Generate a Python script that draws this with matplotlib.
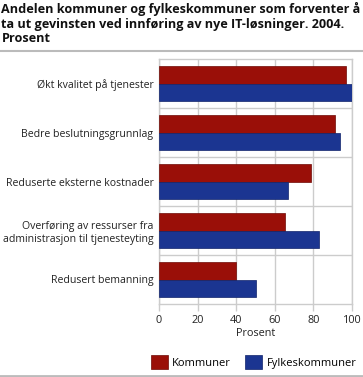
import numpy as np
import matplotlib
matplotlib.use('Agg')
import matplotlib.pyplot as plt
from matplotlib.lines import Line2D
from matplotlib.patches import Patch

plt.rcParams['font.family'] = ['Open Sans', 'DejaVu Sans']

categories = ['Økt kvalitet på tjenester',
              'Bedre beslutningsgrunnlag',
              'Reduserte eksterne kostnader',
              'Overføring av ressurser fra\nadministrasjon til tjenesteyting',
              'Redusert bemanning']
kommuner = [97, 91, 79, 65.5, 40]
fylkeskommuner = [100, 94, 67, 83, 50]
xticks = [0, 20, 40, 60, 80, 100]

red = '#9A0F08'
blue = '#1B3591'
grid = '#CCCCCC'

fig = plt.figure(figsize=(3.63, 3.77), dpi=100)
ax = fig.add_axes([159/363, 1-304/377, 193/363, 245/377])

y = np.arange(len(categories))
h = 0.35
ax.barh(y - h/2, kommuner, height=h, color=red, edgecolor='#6E0A05', linewidth=0.5, zorder=3)
ax.barh(y + h/2, fylkeskommuner, height=h, color=blue, edgecolor='#10236A', linewidth=0.5, zorder=3)

ax.set_ylim(len(categories) - 0.5, -0.5)
ax.set_xlim(0, 100)
ax.set_yticks(y)
ax.set_yticklabels(categories, fontsize=7.6, color='#222222')
ax.tick_params(axis='y', length=0, pad=4)
ax.set_xticks(xticks)
ax.set_xticklabels([str(t) for t in xticks], fontsize=7.8, color='#222222')
ax.tick_params(axis='x', length=5, color=grid, width=1, pad=3)

# vertical gridlines and category separators
for t in xticks:
    ax.axvline(t, color=grid, linewidth=1, zorder=1)
for b in np.arange(len(categories) - 1) + 0.5:
    ax.axhline(b, color=grid, linewidth=1, zorder=1)
for s in ax.spines.values():
    s.set_color(grid)
    s.set_linewidth(1)

ax.set_xlabel('Prosent', fontsize=7.8, color='#222222', labelpad=1)

fig.text(0.004, 0.995, 'Andelen kommuner og fylkeskommuner som forventer å\n'
         'ta ut gevinsten ved innføring av nye IT-løsninger. 2004.\nProsent',
         fontsize=9.1, fontweight='bold', va='top', ha='left', linespacing=1.17,
         color='#111111')

fig.add_artist(Line2D([0, 1], [1-51/377, 1-51/377], color='#BBBBBB', linewidth=1.5))
fig.add_artist(Line2D([0, 1], [1-376/377, 1-376/377], color='#BBBBBB', linewidth=2))

handles = [Patch(facecolor=red, edgecolor='#6E0A05', linewidth=0.5, label='Kommuner'),
           Patch(facecolor=blue, edgecolor='#10236A', linewidth=0.5, label='Fylkeskommuner')]
fig.legend(handles=handles, loc='center right', bbox_to_anchor=(1.0, 1-362/377),
           ncol=2, frameon=False, fontsize=8, handlelength=1.5, handleheight=1.5,
           handletextpad=0.4, columnspacing=1.3, borderaxespad=0.2)

fig.savefig('out.png', dpi=100)
